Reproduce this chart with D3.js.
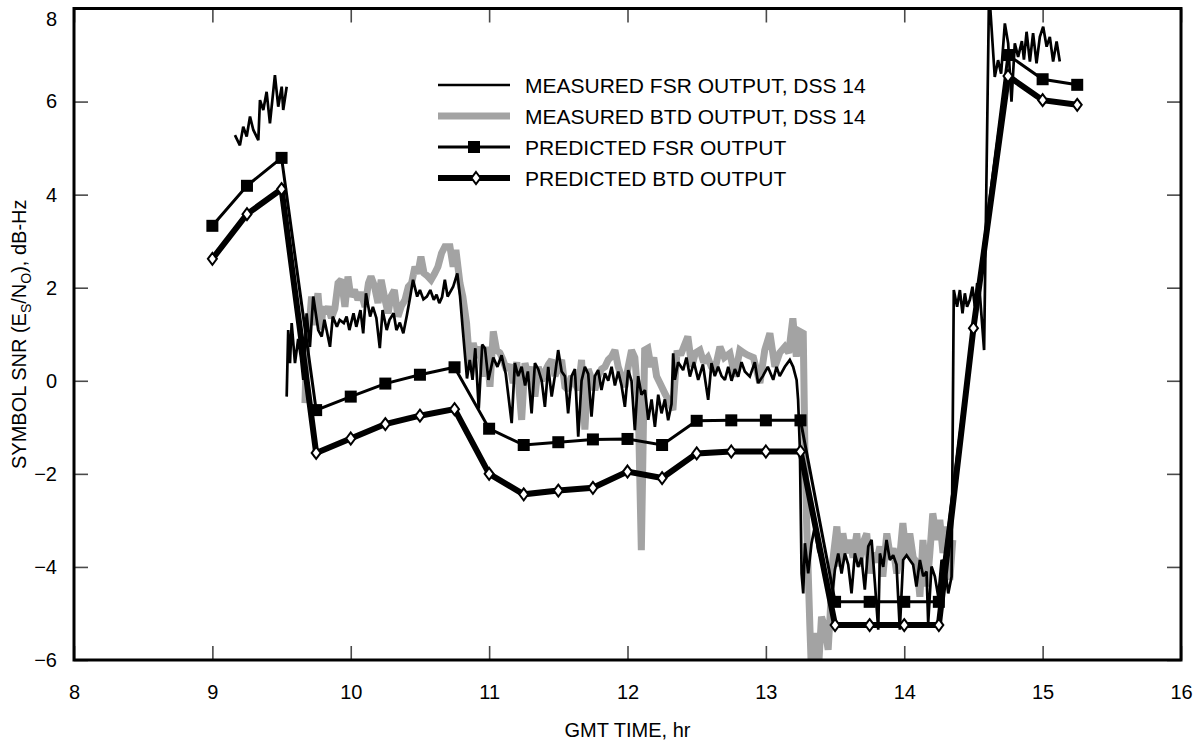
<!DOCTYPE html>
<html>
<head>
<meta charset="utf-8">
<script src="https://cdn.jsdelivr.net/npm/d3@7"></script>
<style>
  body { margin: 0; background: #fff; }
  svg { display: block; }
  text { font-family: "Liberation Sans", Arial, Helvetica, sans-serif; fill: #000; }
</style>
</head>
<body>
<svg id="chart" width="1196" height="748"></svg>
<script>
// Axis ticks
const xTicks = [8, 9, 10, 11, 12, 13, 14, 15, 16];
const yTicks = [-6, -4, -2, 0, 2, 4, 6, 8];

// Predicted outputs (one point per quarter hour)
const fsrPredTime = [9, 9.25, 9.5, 9.75, 10, 10.25, 10.5, 10.75, 11, 11.25, 11.5, 11.75, 12, 12.25,
  12.5, 12.75, 13, 13.25, 13.5, 13.75, 14, 14.25, 14.75, 15, 15.25];
const fsrPredValue = [3.33, 4.19, 4.79, -0.63, -0.34, -0.06, 0.13, 0.29, -1.03, -1.38, -1.32, -1.26, -1.25, -1.38,
  -0.86, -0.85, -0.85, -0.85, -4.75, -4.75, -4.75, -4.75, 7.0, 6.48, 6.36];

const btdPredTime = [9, 9.25, 9.5, 9.75, 10, 10.25, 10.5, 10.75, 11, 11.25, 11.5, 11.75, 12, 12.25,
  12.5, 12.75, 13, 13.25, 13.5, 13.75, 14, 14.25, 14.5, 14.75, 15, 15.25];
const btdPredValue = [2.62, 3.58, 4.12, -1.55, -1.24, -0.93, -0.75, -0.61, -2.0, -2.44, -2.36, -2.30, -1.95, -2.09,
  -1.56, -1.52, -1.52, -1.52, -5.25, -5.25, -5.25, -5.25, 1.13, 6.55, 6.03, 5.93];

// Measured FSR output, DSS 14 — early pass
const fsrMeasEarly = [
  [9.163, 5.28], [9.199, 5.06], [9.223, 5.46], [9.248, 5.25], [9.272, 5.68], [9.296, 5.39],
  [9.332, 5.17], [9.344, 6.03], [9.368, 5.82], [9.392, 6.21], [9.416, 5.53], [9.452, 6.57],
  [9.476, 5.89], [9.501, 6.32], [9.512, 5.82], [9.537, 6.32]
];

// Measured FSR output, DSS 14 — main pass
const fsrMeasMain = [
  [9.537, -0.34], [9.548, 1.09], [9.561, 0.38], [9.573, 1.24], [9.597, 0.38], [9.62, 0.9], [9.64, 0.5],
  [9.657, 0.02], [9.681, 1.45], [9.705, 0.73], [9.729, 1.81], [9.765, 1.09], [9.79, 0.95], [9.81, 1.31],
  [9.85, 0.73], [9.87, 1.38], [9.90, 1.16], [9.92, 1.31], [9.95, 1.24], [9.97, 1.38], [9.99, 1.09],
  [10.02, 1.45], [10.04, 1.16], [10.07, 1.52], [10.09, 1.02], [10.11, 1.88], [10.14, 1.38], [10.16, 1.59],
  [10.185, 1.35], [10.21, 0.70], [10.23, 1.52], [10.26, 1.09], [10.28, 1.31], [10.31, 1.45], [10.33, 1.09],
  [10.355, 1.25], [10.38, 1.02], [10.405, 1.4], [10.43, 1.81], [10.45, 2.17], [10.48, 1.81], [10.50, 1.95],
  [10.525, 1.75], [10.55, 1.81], [10.575, 1.95], [10.60, 1.74], [10.62, 1.85], [10.64, 1.67], [10.66, 1.8],
  [10.68, 2.17], [10.70, 1.81], [10.74, 2.02], [10.77, 2.31], [10.79, 1.81], [10.81, 1.09], [10.84, 0.05],
  [10.86, 0.45], [10.88, 0.02], [10.90, 0.7], [10.925, -0.6], [10.95, 0.78], [10.97, 0.7], [10.995, 0.02],
  [11.03, 0.5], [11.06, 0.3], [11.09, 0.55], [11.12, 0.15], [11.163, -0.91], [11.186, 0.38], [11.21, 0.1],
  [11.235, 0.30], [11.26, -0.1], [11.28, 0.2], [11.307, -0.70], [11.331, 0.38], [11.355, 0.25], [11.38, 0.0],
  [11.403, -0.56], [11.427, 0.30], [11.452, -0.34], [11.475, 0.1], [11.499, 0.66], [11.524, 0.2], [11.548, 0.1],
  [11.571, -0.70], [11.596, 0.1], [11.62, 0.25], [11.644, -1.20], [11.668, 0.0], [11.692, 0.3], [11.716, 0.15],
  [11.74, -0.77], [11.764, 0.1], [11.788, 0.23], [11.812, -0.2], [11.837, 0.16], [11.861, 0.0], [11.885, 0.30],
  [11.909, -0.1], [11.933, 0.2], [11.957, -0.1], [11.981, -0.56], [12.005, 0.23], [12.029, 0.0], [12.053, -1.06],
  [12.077, 0.1], [12.101, -0.3], [12.126, -0.2], [12.15, -0.84], [12.174, -0.4], [12.198, -0.99], [12.222, -0.3],
  [12.246, -0.7], [12.27, -0.4], [12.294, -0.85], [12.318, -0.5], [12.33, 0.59], [12.342, 0.02], [12.366, 0.4],
  [12.402, 0.23], [12.426, 0.5], [12.451, 0.09], [12.48, 0.4], [12.511, 0.02], [12.545, 0.35], [12.583, -0.41],
  [12.607, 0.38], [12.631, 0.1], [12.655, 0.3], [12.68, 0.1], [12.704, 0.02], [12.728, 0.3], [12.752, 0.0],
  [12.776, 0.25], [12.80, 0.09], [12.824, 0.4], [12.848, 0.2], [12.884, 0.09], [12.92, 0.4], [12.944, -0.05],
  [12.978, 0.1], [13.014, 0.3], [13.053, 0.02], [13.077, 0.3], [13.10, 0.1], [13.137, 0.3], [13.173, 0.45],
  [13.197, 0.30], [13.222, 0.02], [13.233, -0.41], [13.246, -1.49], [13.258, -4.14], [13.27, -4.57],
  [13.282, -3.49], [13.306, -4.14], [13.33, -3.49], [13.354, -3.13], [13.378, -3.64], [13.402, -3.85],
  [13.426, -4.14], [13.45, -4.49], [13.475, -4.71], [13.499, -4.06], [13.523, -3.71], [13.547, -4.14],
  [13.571, -3.71], [13.595, -3.95], [13.619, -4.57], [13.643, -3.71], [13.667, -4.0], [13.691, -3.8],
  [13.715, -4.49], [13.74, -3.56], [13.764, -3.42], [13.788, -4.35], [13.812, -5.35], [13.824, -3.71],
  [13.848, -4.0], [13.872, -3.42], [13.896, -3.85], [13.92, -3.75], [13.944, -3.95], [13.968, -5.35],
  [13.992, -3.85], [14.017, -3.75], [14.04, -3.85], [14.064, -3.95], [14.088, -4.42], [14.113, -3.85],
  [14.137, -4.2], [14.161, -4.1], [14.173, -5.21], [14.197, -3.99], [14.221, -4.2], [14.246, -4.64],
  [14.27, -3.85], [14.294, -4.0], [14.318, -4.57], [14.342, -4.21], [14.358, 1.95], [14.382, 1.59],
  [14.402, 1.95], [14.421, 1.45], [14.438, 1.88], [14.454, 1.59], [14.474, 1.74], [14.493, 2.02],
  [14.51, 1.6], [14.527, 2.10], [14.546, 1.88], [14.577, 0.66], [14.613, 8.4], [14.654, 6.53],
  [14.678, 6.89], [14.70, 6.6], [14.727, 7.68], [14.751, 7.25], [14.775, 6.0], [14.799, 7.25],
  [14.823, 6.96], [14.85, 7.3], [14.865, 6.9], [14.884, 7.5], [14.908, 6.86], [14.931, 7.47],
  [14.956, 6.82], [14.98, 7.39], [15.004, 7.61], [15.029, 7.18], [15.052, 7.39], [15.076, 6.86],
  [15.101, 7.29], [15.124, 6.86]
];

// Measured BTD output, DSS 14
const btdMeas = [
  [9.669, -0.48], [9.68, 0.6], [9.69, 1.09], [9.705, 1.38], [9.717, 1.81], [9.73, 1.2], [9.763, 1.88],
  [9.785, 1.09], [9.80, 1.6], [9.814, 1.45], [9.838, 1.59], [9.86, 1.35], [9.885, 1.55], [9.908, 2.10],
  [9.932, 2.17], [9.958, 1.59], [9.98, 2.24], [10.0, 1.81], [10.027, 1.95], [10.052, 1.74], [10.075, 1.9],
  [10.103, 1.59], [10.128, 2.10], [10.146, 2.24], [10.17, 2.05], [10.197, 1.67], [10.22, 2.17], [10.247, 1.75],
  [10.27, 1.45], [10.29, 1.81], [10.315, 1.95], [10.341, 1.38], [10.365, 1.6], [10.392, 1.74], [10.416, 2.02],
  [10.44, 2.1], [10.464, 2.45], [10.485, 2.3], [10.507, 2.67], [10.53, 2.31], [10.555, 2.25], [10.58, 2.17],
  [10.605, 2.3], [10.63, 2.45], [10.656, 2.74], [10.68, 2.88], [10.717, 2.88], [10.74, 2.45], [10.76, 2.81],
  [10.789, 2.10], [10.81, 1.81], [10.837, 1.24], [10.861, 0.30], [10.885, 0.81], [10.91, 0.5], [10.934, 0.73],
  [10.958, 0.09], [10.982, 0.73], [11.006, -0.13], [11.03, 1.06], [11.054, 0.66], [11.078, 0.6], [11.10, 0.45],
  [11.126, 0.23], [11.15, 0.35], [11.174, -0.05], [11.20, 0.4], [11.235, -0.84], [11.259, 0.38], [11.283, 0.1],
  [11.307, 0.3], [11.331, -0.34], [11.355, 0.3], [11.38, 0.0], [11.403, 0.2], [11.428, 0.35], [11.452, 0.45],
  [11.476, 0.1], [11.50, 0.3], [11.524, 0.45], [11.548, -0.13], [11.572, -0.2], [11.596, 0.1], [11.62, -0.05],
  [11.644, -0.2], [11.668, 0.45], [11.692, -1.05], [11.716, 0.25], [11.74, 0.05], [11.764, -0.2], [11.788, 0.1],
  [11.812, 0.25], [11.837, 0.3], [11.861, 0.45], [11.885, 0.52], [11.909, 0.66], [11.933, 0.3], [11.957, 0.09],
  [11.981, -0.13], [12.005, 0.30], [12.029, 0.66], [12.053, 0.5], [12.077, -0.41], [12.10, -3.64], [12.124, 0.66],
  [12.147, 0.70], [12.17, 0.3], [12.19, 0.5], [12.21, 0.1], [12.234, -0.05], [12.27, -0.27], [12.306, -0.48],
  [12.328, -0.63], [12.357, 0.59], [12.39, 0.6], [12.436, 0.95], [12.465, 0.30], [12.49, 0.6], [12.523, 0.66],
  [12.55, 0.4], [12.58, 0.5], [12.606, 0.3], [12.631, 0.23], [12.668, 0.73], [12.70, 0.5], [12.74, 0.59],
  [12.776, 0.09], [12.812, 0.66], [12.84, 0.6], [12.87, 0.55], [12.91, 0.5], [12.957, -0.05], [12.992, 0.66],
  [13.029, 1.02], [13.065, 0.30], [13.10, 0.6], [13.137, 0.73], [13.165, 0.6], [13.195, 1.34], [13.22, 0.52],
  [13.246, 1.06], [13.27, 1.02], [13.282, -1.5], [13.294, -3.0], [13.306, -4.14], [13.318, -5.28], [13.33, -6.3],
  [13.354, -5.42], [13.378, -6.3], [13.402, -5.07], [13.426, -5.3], [13.45, -5.78], [13.465, -5.0],
  [13.484, -3.85], [13.513, -3.13], [13.535, -3.99], [13.556, -3.28], [13.58, -3.7], [13.606, -3.42],
  [13.63, -3.8], [13.657, -3.28], [13.678, -3.99], [13.70, -3.5], [13.729, -3.28], [13.751, -4.14],
  [13.775, -3.7], [13.80, -3.9], [13.824, -3.56], [13.845, -4.21], [13.874, -3.28], [13.90, -3.8],
  [13.92, -3.6], [13.946, -4.14], [13.97, -3.7], [13.99, -3.06], [14.015, -3.8], [14.04, -3.28],
  [14.065, -3.8], [14.09, -3.9], [14.113, -4.64], [14.135, -3.42], [14.165, -4.42], [14.185, -3.7],
  [14.206, -2.85], [14.236, -3.42], [14.257, -2.99], [14.28, -3.7], [14.308, -3.13], [14.329, -4.28],
  [14.351, -3.42]
];

// Legend entries
const legendLabels = [
  "MEASURED FSR OUTPUT, DSS 14",
  "MEASURED BTD OUTPUT, DSS 14",
  "PREDICTED FSR OUTPUT",
  "PREDICTED BTD OUTPUT"
];

const svg = d3.select("#chart");
const plotLeft = 74, plotRight = 1181, plotTop = 8.5, plotBottom = 660;

const x = d3.scaleLinear().domain([8, 16]).range([plotLeft, plotRight]);
const y = d3.scaleLinear().domain([-6, 8]).range([plotBottom, plotTop]);

svg.append("defs").append("clipPath").attr("id", "plot-clip")
  .append("rect").attr("x", plotLeft).attr("y", plotTop)
  .attr("width", plotRight - plotLeft).attr("height", plotBottom - plotTop);

// Inward ticks on all four sides
const tickLen = 14;
function styleAxis(g) {
  g.select(".domain").remove();
  g.selectAll(".tick line").attr("stroke", "#4a4a4a").attr("stroke-width", 1.6);
  g.selectAll(".tick text").attr("font-size", 20).attr("fill", "#000")
    .style("font-family", "'Liberation Sans', Arial, sans-serif");
}
svg.append("g").attr("transform", `translate(0,${plotBottom})`)
  .call(d3.axisBottom(x).tickValues(xTicks).tickSize(-tickLen).tickPadding(25).tickFormat(d3.format("d")))
  .call(styleAxis);
svg.append("g").attr("transform", `translate(0,${plotTop})`)
  .call(d3.axisTop(x).tickValues(xTicks).tickSize(-tickLen).tickFormat(""))
  .call(styleAxis);
const yAxisG = svg.append("g").attr("transform", `translate(${plotLeft},0)`)
  .call(d3.axisLeft(y).tickValues(yTicks).tickSize(-tickLen).tickPadding(17)
    .tickFormat(d => d < 0 ? "\u2212" + Math.abs(d) : String(d)))
  .call(styleAxis);
// The top label sits a little lower so it stays on the page
yAxisG.selectAll(".tick text").filter(d => d === 8).attr("dy", "0.85em");
svg.append("g").attr("transform", `translate(${plotRight},0)`)
  .call(d3.axisRight(y).tickValues(yTicks).tickSize(-tickLen).tickFormat(""))
  .call(styleAxis);

const plot = svg.append("g").attr("clip-path", "url(#plot-clip)");

const line = d3.line().x(d => x(d[0])).y(d => y(d[1]));

// Measured BTD trace (grey, wide)
plot.append("path").datum(btdMeas)
  .attr("d", line).attr("fill", "none").attr("stroke", "#a3a3a3")
  .attr("stroke-width", 7).attr("stroke-linejoin", "miter").attr("stroke-miterlimit", 2);

// Measured FSR traces (black, thin)
[fsrMeasEarly, fsrMeasMain].forEach(seg => {
  plot.append("path").datum(seg)
    .attr("d", line).attr("fill", "none").attr("stroke", "#000")
    .attr("stroke-width", 2.7).attr("stroke-linejoin", "miter").attr("stroke-miterlimit", 2);
});

// Predicted curves
const fsrPred = fsrPredTime.map((t, i) => [t, fsrPredValue[i]]);
const btdPred = btdPredTime.map((t, i) => [t, btdPredValue[i]]);

plot.append("path").datum(btdPred)
  .attr("d", line).attr("fill", "none").attr("stroke", "#000")
  .attr("stroke-width", 6).attr("stroke-linejoin", "miter").attr("stroke-miterlimit", 3);

plot.append("path").datum(fsrPred)
  .attr("d", line).attr("fill", "none").attr("stroke", "#000")
  .attr("stroke-width", 3).attr("stroke-linejoin", "miter").attr("stroke-miterlimit", 3);

const sq = 12;
plot.selectAll("rect.fsr-mark").data(fsrPred).join("rect")
  .attr("class", "fsr-mark")
  .attr("x", d => x(d[0]) - sq / 2).attr("y", d => y(d[1]) - sq / 2)
  .attr("width", sq).attr("height", sq).attr("fill", "#000");

const diamond = "M0,-6L4.5,0L0,6L-4.5,0Z";
plot.selectAll("path.btd-mark").data(btdPred).join("path")
  .attr("class", "btd-mark")
  .attr("transform", d => `translate(${x(d[0])},${y(d[1])})`)
  .attr("d", diamond).attr("fill", "#fff").attr("stroke", "#000").attr("stroke-width", 2);

// Frame
svg.append("rect").attr("x", plotLeft).attr("y", plotTop)
  .attr("width", plotRight - plotLeft).attr("height", plotBottom - plotTop)
  .attr("fill", "none").attr("stroke", "#000").attr("stroke-width", 3);

// Axis titles
svg.append("text").attr("x", (plotLeft + plotRight) / 2).attr("y", 737)
  .attr("text-anchor", "middle").attr("font-size", 20).text("GMT TIME, hr");

const yTitle = svg.append("text")
  .attr("transform", `translate(26,${(plotTop + plotBottom) / 2}) rotate(-90)`)
  .attr("text-anchor", "middle").attr("font-size", 20);
yTitle.append("tspan").text("SYMBOL SNR (E");
yTitle.append("tspan").attr("font-size", 14).attr("dy", 5).text("S");
yTitle.append("tspan").attr("dy", -5).text("/N");
yTitle.append("tspan").attr("font-size", 14).attr("dy", 5).text("O");
yTitle.append("tspan").attr("dy", -5).text("), dB-Hz");

// Legend
const legX0 = 438, legX1 = 510, legText = 525;
const legY = [85, 116, 147, 178];
const lg = svg.append("g");
const legendStyles = [
  { stroke: "#000", width: 2.7, mark: null },
  { stroke: "#a3a3a3", width: 7, mark: null },
  { stroke: "#000", width: 3, mark: "square" },
  { stroke: "#000", width: 6, mark: "diamond" }
];
legendLabels.forEach((label, i) => {
  const s = legendStyles[i];
  lg.append("line").attr("x1", legX0).attr("x2", legX1).attr("y1", legY[i]).attr("y2", legY[i])
    .attr("stroke", s.stroke).attr("stroke-width", s.width);
  if (s.mark === "square") {
    lg.append("rect").attr("x", 474 - sq / 2).attr("y", legY[i] - sq / 2)
      .attr("width", sq).attr("height", sq).attr("fill", "#000");
  } else if (s.mark === "diamond") {
    lg.append("path").attr("transform", `translate(476,${legY[i]})`).attr("d", diamond)
      .attr("fill", "#fff").attr("stroke", "#000").attr("stroke-width", 2);
  }
  lg.append("text").attr("x", legText).attr("y", legY[i]).attr("dy", "0.36em")
    .attr("font-size", 21).text(label);
});
</script>
</body>
</html>
